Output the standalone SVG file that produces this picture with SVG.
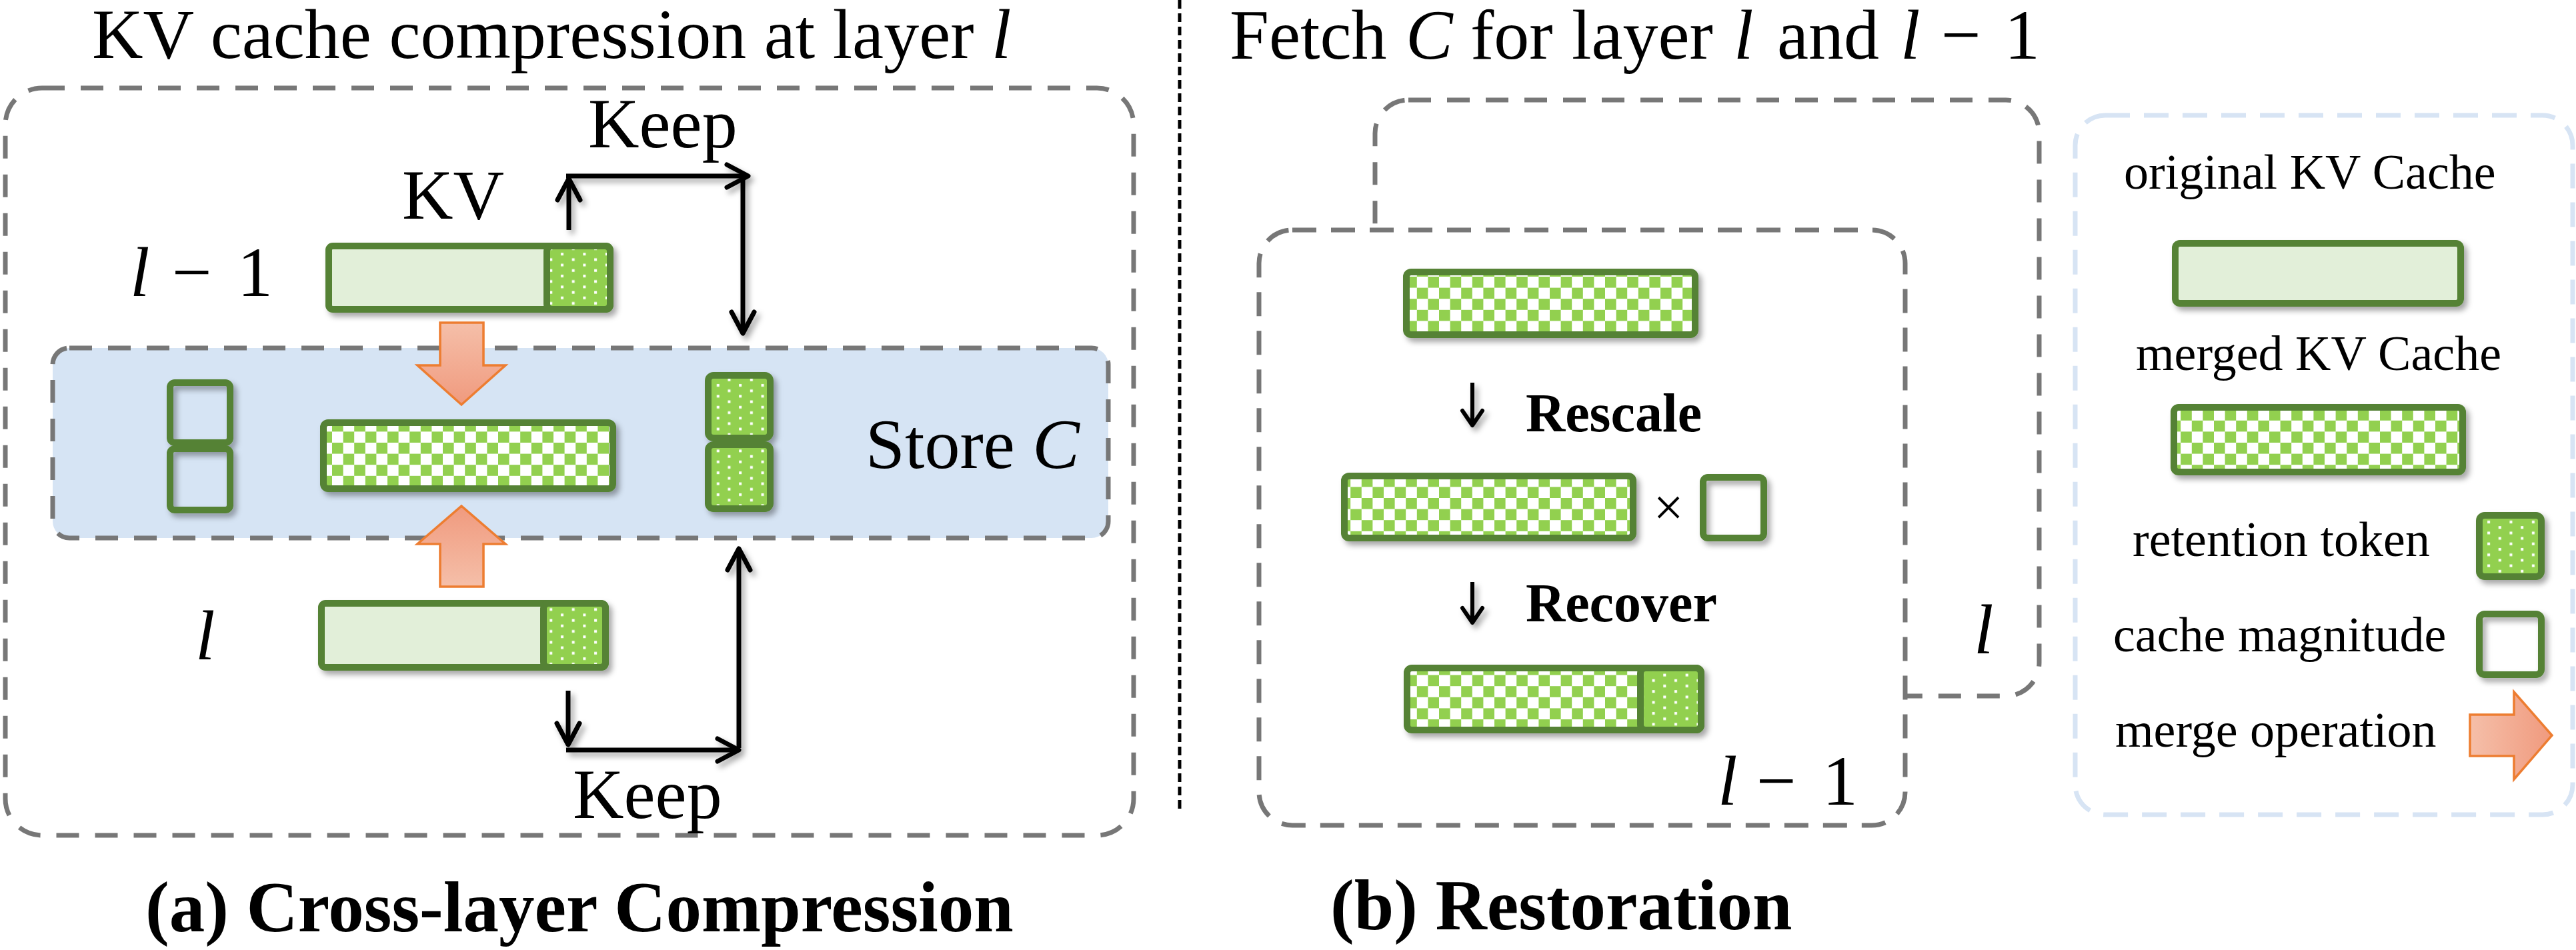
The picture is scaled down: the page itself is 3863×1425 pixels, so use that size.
<svg xmlns="http://www.w3.org/2000/svg" width="3863" height="1425" viewBox="0 0 3863 1425">
<defs>
<style>
.t{font-family:"Liberation Serif","Times New Roman",serif;fill:#000}
.big{font-size:106px}
.cap{font-size:107px;font-weight:bold}
.leg{font-size:74px}
.op{font-size:82px;font-weight:bold}
.it{font-style:italic}
.kv{fill:#E2EFD9;stroke:#548235;stroke-width:10}
.mg{fill:url(#checker);stroke:#548235;stroke-width:10}
.tk{fill:url(#dots);stroke:#548235;stroke-width:10}
.mag{fill:none;stroke:#548235;stroke-width:10}
.frame{fill:none;stroke:#777;stroke-width:7;stroke-dasharray:34 24}
.ln{fill:none;stroke:#000;stroke-width:7}
.sln{fill:none;stroke:#000;stroke-width:6}
.orange{stroke:#ED7D31;stroke-width:3.5}
</style>
<pattern id="checker" patternUnits="userSpaceOnUse" width="33.2" height="33.2">
<rect width="33.2" height="33.2" fill="#fff"/>
<rect width="16.6" height="16.6" fill="#92D050"/>
<rect x="16.6" y="16.6" width="16.6" height="16.6" fill="#92D050"/>
</pattern>
<pattern id="dots" patternUnits="userSpaceOnUse" width="33.4" height="16.4">
<rect width="33.4" height="16.4" fill="#92D050"/>
<rect x="6" y="2" width="4" height="4" fill="#fff"/>
<rect x="22.7" y="10.2" width="4" height="4" fill="#fff"/>
</pattern>
<linearGradient id="gDown" x1="0" y1="0" x2="0" y2="1"><stop offset="0" stop-color="#F5BFA9"/><stop offset="1" stop-color="#F09A7E"/></linearGradient>
<linearGradient id="gUp" x1="0" y1="1" x2="0" y2="0"><stop offset="0" stop-color="#F5BFA9"/><stop offset="1" stop-color="#F09A7E"/></linearGradient>
<linearGradient id="gRight" x1="0" y1="0" x2="1" y2="0"><stop offset="0" stop-color="#F5BFA9"/><stop offset="1" stop-color="#F09A7E"/></linearGradient>
<marker id="ah" markerUnits="userSpaceOnUse" viewBox="-40 -25 50 50" markerWidth="50" markerHeight="50" refX="0" refY="0" orient="auto" overflow="visible">
<path d="M-32,-17 L0,0 L-32,17" fill="none" stroke="#000" stroke-width="7" stroke-linecap="round" stroke-linejoin="round"/>
</marker>
<marker id="ah2" markerUnits="userSpaceOnUse" viewBox="-40 -25 50 50" markerWidth="50" markerHeight="50" refX="0" refY="0" orient="auto" overflow="visible">
<path d="M-22,-15 L0,0 L-22,15" fill="none" stroke="#000" stroke-width="6" stroke-linecap="round" stroke-linejoin="round"/>
</marker>
<filter id="sh" filterUnits="userSpaceOnUse" x="0" y="0" width="3863" height="1425">
<feDropShadow dx="5" dy="6" stdDeviation="4" flood-color="#000" flood-opacity="0.35"/>
</filter>
</defs>
<rect width="3863" height="1425" fill="#fff"/>

<g id="panel-a-frame">
<rect class="frame" x="8" y="132" width="1692" height="1121" rx="55"/>
<rect x="79" y="522" width="1583" height="285" rx="25" fill="#D6E4F4" stroke="#777" stroke-width="7" stroke-dasharray="34 24"/>
</g>
<text id="title-a" class="t big" x="138" y="87">KV cache compression at layer <tspan class="it">l</tspan></text>

<g id="label-l-1" class="t big"><text x="195" y="444"><tspan class="it">l</tspan><tspan x="258">−</tspan><tspan x="356">1</tspan></text></g>
<text id="label-kv" class="t big" x="603" y="328">KV</text>
<text id="label-keep-top" class="t big" x="882" y="221">Keep</text>

<g id="kv-layer-l-1" filter="url(#sh)">
<rect class="kv" x="493" y="369" width="422" height="95" rx="6"/>
<rect class="tk" x="820" y="369" width="95" height="95" rx="8"/>
</g>

<g id="store-c">
<g id="magnitudes" filter="url(#sh)">
<rect class="mag" x="255" y="574" width="90" height="90" rx="7"/>
<rect class="mag" x="255" y="673" width="90" height="92" rx="7"/>
</g>
<g id="merged-kv" filter="url(#sh)">
<rect class="mg" x="485" y="634" width="434" height="99" rx="7"/>
</g>
<g id="retention-tokens" filter="url(#sh)">
<rect class="tk" x="1062" y="563" width="93" height="94" rx="8"/>
<rect class="tk" x="1062" y="667" width="93" height="96" rx="8"/>
</g>
<text class="t big" x="1298" y="702">Store <tspan class="it">C</tspan></text>
</g>

<text id="label-l" class="t big it" x="293" y="989">l</text>
<g id="kv-layer-l" filter="url(#sh)">
<rect class="kv" x="482" y="905" width="426" height="96" rx="6"/>
<rect class="tk" x="815" y="905" width="93" height="96" rx="8"/>
</g>
<text id="label-keep-bottom" class="t big" x="859" y="1227">Keep</text>

<text id="caption-a" class="t cap" x="218" y="1397">(a) Cross-layer Compression</text>

<line id="divider" x1="1769" y1="0" x2="1769" y2="1214" stroke="#000" stroke-width="5" stroke-dasharray="13 7"/>

<text id="title-b" class="t big" y="88"><tspan x="1844">Fetch</tspan><tspan x="2108" class="it">C</tspan><tspan x="2205">for</tspan><tspan x="2357">layer</tspan><tspan x="2600" class="it">l</tspan><tspan x="2665">and</tspan><tspan x="2850" class="it">l</tspan><tspan x="2911">−</tspan><tspan x="3006">1</tspan></text>

<g id="layer-l-box">
<rect class="frame" x="2062" y="150" width="996" height="894" rx="50" fill="#fff"/>
<text class="t big it" x="2960" y="980">l</text>
</g>
<g id="layer-l-1-box">
<rect x="1888" y="345" width="969" height="893" rx="50" fill="#fff" stroke="#777" stroke-width="7" stroke-dasharray="36 22"/>
<text class="t big" y="1207"><tspan x="2576" class="it">l</tspan><tspan x="2634">−</tspan><tspan x="2733">1</tspan></text>
</g>

<g id="fetched-merged" filter="url(#sh)">
<rect class="mg" x="2109" y="408" width="433" height="94" rx="7"/>
</g>
<text id="label-rescale" class="t op" x="2288" y="647">Rescale</text>
<g id="rescaled">
<g filter="url(#sh)">
<rect class="mg" x="2016" y="714" width="433" height="93" rx="7"/>
<rect class="mag" x="2554" y="716" width="91" height="91" rx="7"/>
</g>
<text class="t" x="2502" y="788" font-size="80" text-anchor="middle">×</text>
</g>
<text id="label-recover" class="t op" x="2288" y="932">Recover</text>
<g id="recovered" filter="url(#sh)">
<rect class="mg" x="2110" y="1002" width="441" height="93" rx="7"/>
<rect class="tk" x="2460" y="1002" width="91" height="93" rx="8"/>
</g>

<text id="caption-b" class="t cap" x="1995" y="1394">(b) Restoration</text>

<g id="legend">
<rect x="3112" y="173" width="746" height="1049" rx="45" fill="none" stroke="#D7E4F4" stroke-width="7" stroke-dasharray="37 21"/>
<text class="t leg" x="3185" y="283">original KV Cache</text>
<g filter="url(#sh)"><rect class="kv" x="3262" y="365" width="428" height="90" rx="7"/></g>
<text class="t leg" x="3203" y="555">merged KV Cache</text>
<g filter="url(#sh)"><rect class="mg" x="3260" y="611" width="433" height="97" rx="7"/></g>
<text class="t leg" x="3198" y="834">retention token</text>
<g filter="url(#sh)"><rect class="tk" x="3718" y="773" width="93" height="92" rx="8"/></g>
<text class="t leg" x="3169" y="977">cache magnitude</text>
<g filter="url(#sh)"><rect class="mag" x="3718" y="921" width="93" height="91" rx="8"/></g>
<text class="t leg" x="3172" y="1120">merge operation</text>
<polygon class="orange" fill="url(#gRight)" points="3704,1072 3770,1072 3770,1038 3827,1103 3770,1169 3770,1134 3704,1134"/>
</g>

<g id="connectors">
<g filter="url(#sh)">
<line class="ln" x1="853" y1="345" x2="853" y2="268" marker-end="url(#ah)"/>
<line class="ln" x1="849" y1="264" x2="1122" y2="264" marker-end="url(#ah)"/>
<line class="ln" x1="1114" y1="268" x2="1114" y2="500" marker-end="url(#ah)"/>
<line class="ln" x1="852" y1="1036" x2="852" y2="1117" marker-end="url(#ah)"/>
<line class="ln" x1="849" y1="1125" x2="1108" y2="1125" marker-end="url(#ah)"/>
<line class="ln" x1="1108" y1="1122" x2="1108" y2="823" marker-end="url(#ah)"/>
<line class="sln" x1="2208" y1="574" x2="2208" y2="638" marker-end="url(#ah2)"/>
<line class="sln" x1="2208" y1="873" x2="2208" y2="934" marker-end="url(#ah2)"/>
</g>
<polygon class="orange" fill="url(#gDown)" points="660,484 725,484 725,548 758,548 692,607 626,548 660,548"/>
<polygon class="orange" fill="url(#gUp)" points="692,759 758,816 725,816 725,880 660,880 660,816 626,816"/>
</g>
</svg>
